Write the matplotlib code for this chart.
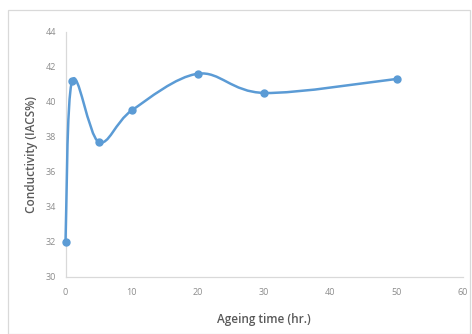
import numpy as np
import matplotlib
matplotlib.use('Agg')
import matplotlib.pyplot as plt
from matplotlib.path import Path
from matplotlib.patches import PathPatch, Rectangle

# ── Data ──────────────────────────────────────────────────────────────────────
ageing_time = [0, 1, 5, 10, 20, 30, 50]            # hr
conductivity = [32.0, 41.2, 37.7, 39.5, 41.6, 40.5, 41.3]  # IACS%

X_TICKS = [0, 10, 20, 30, 40, 50, 60]
Y_TICKS = [30, 32, 34, 36, 38, 40, 42, 44]

BLUE = '#5B9BD5'
TICK_GREY = '#8C8C8C'
LABEL_GREY = '#595959'
AXIS_GREY = '#D9D9D9'

plt.rcParams['font.family'] = ['Open Sans', 'DejaVu Sans']


def smooth_path(xs, ys):
    """Excel-style smoothed line: Catmull-Rom segments as cubic Beziers."""
    pts = np.column_stack([xs, ys]).astype(float)
    n = len(pts)
    verts = [pts[0]]
    codes = [Path.MOVETO]
    for i in range(n - 1):
        p0 = pts[i - 1] if i > 0 else pts[i]
        p1 = pts[i]
        p2 = pts[i + 1]
        p3 = pts[i + 2] if i + 2 < n else pts[i + 1]
        c1 = p1 + (p2 - p0) / 6.0
        c2 = p2 - (p3 - p1) / 6.0
        verts += [c1, c2, p2]
        codes += [Path.CURVE4] * 3
    return Path(verts, codes)


fig = plt.figure(figsize=(4.72, 3.34), dpi=100)
ax = fig.add_axes([0.1388, 0.1716, 0.842, 0.7335])

ax.add_patch(PathPatch(smooth_path(ageing_time, conductivity), facecolor='none',
                       edgecolor=BLUE, lw=1.8, zorder=3, clip_on=False))
ax.plot(ageing_time, conductivity, linestyle='none', marker='o', ms=5,
        color=BLUE, zorder=4, clip_on=False)

ax.set_xlim(0, 60)
ax.set_ylim(30, 44)
ax.set_xticks(X_TICKS)
ax.set_yticks(Y_TICKS)
ax.tick_params(length=0, labelsize=6.5, colors=TICK_GREY)
ax.tick_params(axis='x', pad=8)
ax.tick_params(axis='y', pad=7)

for side in ('top', 'right'):
    ax.spines[side].set_visible(False)
for side in ('left', 'bottom'):
    ax.spines[side].set_color(AXIS_GREY)
    ax.spines[side].set_linewidth(0.9)

ax.set_xlabel('Ageing time (hr.)', fontsize=8.5, color=LABEL_GREY,
              fontweight='semibold', labelpad=12)
ax.set_ylabel('Conductivity (IACS%)', fontsize=8.5, color=LABEL_GREY,
              fontweight='semibold', labelpad=5)

# light chart-area border
fig.patches.append(Rectangle((8 / 472, 0.0), 462 / 472, 1 - 10 / 334,
                             transform=fig.transFigure, fill=False,
                             edgecolor=AXIS_GREY, lw=0.9))

fig.savefig('out.png', dpi=100)
